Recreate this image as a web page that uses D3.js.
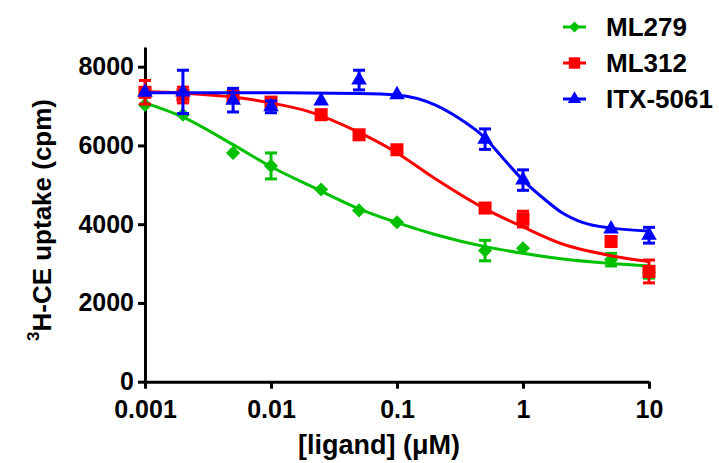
<!DOCTYPE html>
<meta charset="utf-8">
<html>
<script src="https://cdn.jsdelivr.net/npm/d3@7"></script>
<body style="margin:0;background:#fff;">
<style>
    text { font-family: "Liberation Sans", Arial, sans-serif; font-weight: bold; fill: #000; }
    .axis path, .axis line { stroke: #000; stroke-width: 3; }
</style>
<div id="chart"></div>
<script>
    // concentrations (uM)
    var conc = [0.001, 0.002, 0.005, 0.01, 0.025, 0.05, 0.1, 0.5, 1, 5, 10];

    // mean uptake (cpm) and SEM for each compound
    var ml279 = [7030, 6780, 5810, 5480, 4880, 4350, 4050, 3330, 3390, 3100, 2780];
    var ml279Err = [0, 0, 0, 330, 0, 0, 0, 260, 0, 160, 150];
    var ml312 = [7350, 7280, 7240, 7100, 6780, 6270, 5890, 4410, 4130, 3560, 2800];
    var ml312Err = [300, 200, 150, 100, 0, 0, 0, 0, 200, 0, 290];
    var itx5061 = [7350, 7360, 7150, 6980, 7130, 7660, 7290, 6160, 5120, 3880, 3720];
    var itx5061Err = [0, 550, 300, 150, 0, 250, 0, 260, 260, 0, 200];

    // fitted curves
    var ml279FitX = [0.001, 0.002, 0.005, 0.01, 0.02, 0.05, 0.1, 0.2, 0.5, 1, 2, 5, 10];
    var ml279FitY = [7080, 6720, 6020, 5460, 4990, 4390, 4040, 3740, 3430, 3260, 3120, 3000, 2940];
    var ml312FitX = [0.001, 0.002, 0.005, 0.01, 0.02, 0.05, 0.1, 0.2, 0.5, 1, 2, 5, 10];
    var ml312FitY = [7370, 7330, 7230, 7080, 6860, 6330, 5810, 5160, 4390, 3930, 3510, 3200, 3050];
    var itxFitX = [0.001, 0.01, 0.05, 0.1, 0.2, 0.3, 0.5, 0.7, 1, 1.5, 2, 3, 5, 10];
    var itxFitY = [7340, 7340, 7320, 7280, 7030, 6720, 6190, 5660, 5120, 4620, 4310, 4040, 3900, 3830];

    var names = ["ML279", "ML312", "ITX-5061"];
    var colors = ["#00c000", "#ff0000", "#0000ff"];
    var yTicks = [0, 2000, 4000, 6000, 8000];
    var xTicks = [0.001, 0.01, 0.1, 1, 10];

    var width = 719, height = 463;

    var svg = d3.select("#chart").append("svg")
        .attr("width", width)
        .attr("height", height);

    var x = d3.scaleLog().domain([0.001, 10]).range([145, 649]);
    var y = d3.scaleLinear().domain([0, 8500]).range([381.7, 47]);

    //axes
    svg.append("g")
        .attr("class", "axis")
        .attr("transform", "translate(0,381.7)")
        .call(d3.axisBottom(x).tickValues(xTicks).tickSize(7).tickSizeOuter(0)
            .tickFormat(function(d) { return d3.format("~g")(d); }))
        .call(function(g) { g.selectAll("text").style("font-size", "25px").attr("y", 36).attr("dy", 0); });

    svg.append("g")
        .attr("class", "axis")
        .attr("transform", "translate(145,0)")
        .call(d3.axisLeft(y).tickValues(yTicks).tickSize(7).tickSizeOuter(0).tickPadding(4)
            .tickFormat(d3.format("d")))
        .call(function(g) { g.selectAll("text").style("font-size", "25px"); });

    //axis labels
    svg.append("text")
        .attr("x", 379)
        .attr("y", 454)
        .attr("text-anchor", "middle")
        .style("font-size", "27px")
        .text("[ligand] (\u03bcM)");

    var yl = svg.append("text")
        .attr("transform", "translate(47,220) rotate(-90)")
        .attr("text-anchor", "middle")
        .style("font-size", "26px");
    yl.append("tspan").attr("dy", "-0.45em").style("font-size", "17px").text("3");
    yl.append("tspan").attr("dy", "0.45em").text("H-CE uptake (cpm)");

    var line = d3.line()
        .x(function(d) { return x(d[0]); })
        .y(function(d) { return y(d[1]); })
        .curve(d3.curveMonotoneX);

    var symbols = [
        d3.symbol().type(d3.symbolSquare).size(100),
        d3.symbol().type(d3.symbolSquare).size(170),
        d3.symbol().type(d3.symbolTriangle).size(105)
    ];
    var rotations = [45, 0, 0];

    var series = [
        {vals: ml279, err: ml279Err, fx: ml279FitX, fy: ml279FitY},
        {vals: ml312, err: ml312Err, fx: ml312FitX, fy: ml312FitY},
        {vals: itx5061, err: itx5061Err, fx: itxFitX, fy: itxFitY}
    ];

    series.forEach(function(s, i) {
        var g = svg.append("g");
        var c = colors[i];

        g.append("path")
            .datum(d3.zip(s.fx, s.fy))
            .attr("fill", "none")
            .attr("stroke", c)
            .attr("stroke-width", 3)
            .attr("d", line);

        var pts = conc.map(function(cx, j) { return {c: cx, v: s.vals[j], e: s.err[j]}; });
        var eb = pts.filter(function(d) { return d.e > 0; });

        g.selectAll(".ebar").data(eb).enter().append("line")
            .attr("x1", function(d) { return x(d.c); })
            .attr("x2", function(d) { return x(d.c); })
            .attr("y1", function(d) { return y(d.v + d.e); })
            .attr("y2", function(d) { return y(d.v - d.e); })
            .attr("stroke", c).attr("stroke-width", 3);

        [1, -1].forEach(function(sgn) {
            g.selectAll(".cap").data(eb).enter().append("line")
                .attr("x1", function(d) { return x(d.c) - 6; })
                .attr("x2", function(d) { return x(d.c) + 6; })
                .attr("y1", function(d) { return y(d.v + sgn * d.e); })
                .attr("y2", function(d) { return y(d.v + sgn * d.e); })
                .attr("stroke", c).attr("stroke-width", 3);
        });

        g.selectAll(".pt").data(pts).enter().append("path")
            .attr("d", symbols[i])
            .attr("transform", function(d) {
                return "translate(" + x(d.c) + "," + y(d.v) + ") rotate(" + rotations[i] + ")";
            })
            .attr("fill", c);
    });

    //legend
    var legSymbols = [
        d3.symbol().type(d3.symbolSquare).size(60),
        d3.symbol().type(d3.symbolSquare).size(130),
        d3.symbol().type(d3.symbolTriangle).size(80)
    ];
    names.forEach(function(n, i) {
        var ly = 27 + i * 36;
        svg.append("line")
            .attr("x1", 563).attr("x2", 586)
            .attr("y1", ly).attr("y2", ly)
            .attr("stroke", colors[i]).attr("stroke-width", 3);
        svg.append("path")
            .attr("d", legSymbols[i])
            .attr("transform", "translate(574.5," + ly + ") rotate(" + rotations[i] + ")")
            .attr("fill", colors[i]);
        svg.append("text")
            .attr("x", 606)
            .attr("y", ly + 9)
            .style("font-size", "26px")
            .text(n);
    });
</script>
</body>
</html>
